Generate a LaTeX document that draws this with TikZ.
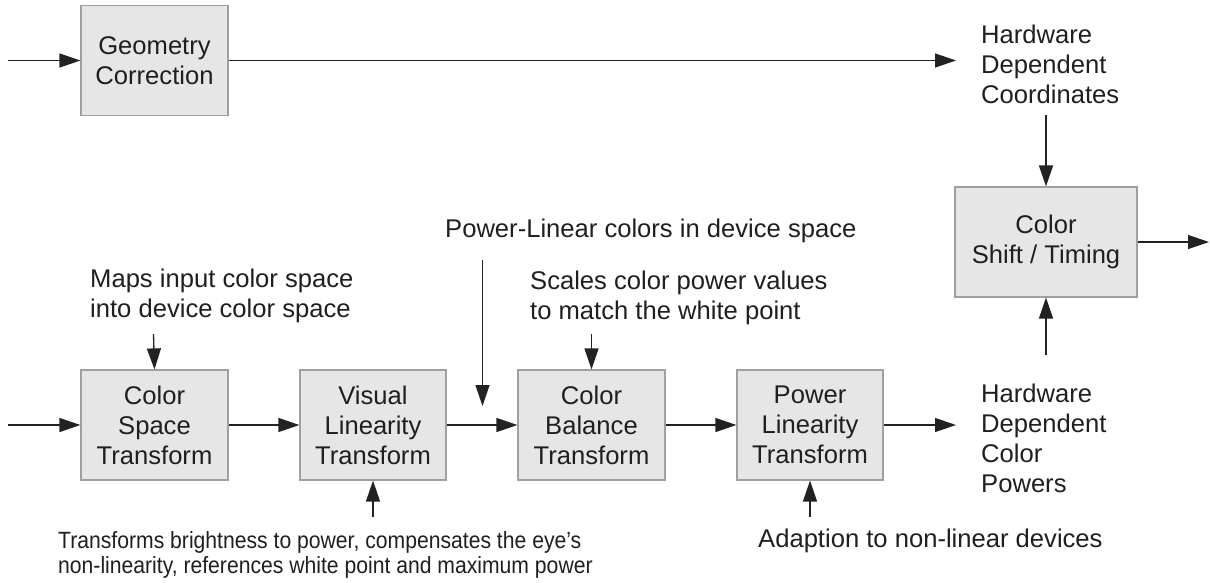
\documentclass[tikz,border=0pt]{standalone}
\usepackage{fontspec}
\setmainfont{Liberation Sans}
\usetikzlibrary{arrows.meta}
\definecolor{boxfill}{HTML}{E6E6E6}
\definecolor{boxline}{HTML}{A0A0A0}
\definecolor{lineclr}{HTML}{222222}
\tikzset{
  blk/.style={draw=boxline, line width=1.2pt, fill=boxfill, minimum width=147pt, minimum height=110pt, inner sep=0pt, align=center, font=\fontsize{25.6}{30}\selectfont, text=black!88},
  lbl/.style={inner sep=0pt, align=left, font=\fontsize{25.6}{30}\selectfont, text=black!88},
  conn/.style={draw=lineclr, line width=1.3pt, -{Triangle[length=21pt,width=14pt]}},
}
\begin{document}
\begin{tikzpicture}[x=1pt,y=-1pt]
\useasboundingbox (0,0) rectangle (1210,582);
% boxes
\node[blk] (geo) at (154.5,60.5) {Geometry\\Correction};
\node[blk, minimum width=182pt] (shift) at (1046,242) {Color\\Shift / Timing};
\node[blk] (cst) at (154.5,425) {Color\\Space\\Transform};
\node[blk, minimum width=146pt] (vlt) at (373,425) {Visual\\Linearity\\Transform};
\node[blk] (cbt) at (591.5,425) {Color\\Balance\\Transform};
\node[blk, minimum width=146pt] (plt) at (810,425) {Power\\Linearity\\Transform};
% labels
\node[lbl, anchor=west] (hdc) at (981,64) {Hardware\\Dependent\\Coordinates};
\node[lbl, anchor=west] (hdp) at (981,438) {Hardware\\Dependent\\Color\\Powers};
\node[lbl, anchor=west] (maps) at (90,296) {Maps input color space\\into device color space};
\node[lbl, anchor=west] (plin) at (445,231) {Power-Linear colors in device space};
\node[lbl, anchor=west] (scales) at (530,298) {Scales color power values\\to match the white point};
\node[lbl, anchor=west, font=\fontsize{23.5}{25.5}\selectfont] (trans) at (58,556) {\scalebox{0.9}[1]{\begin{tabular}{@{}l@{}}Transforms brightness to power, compensates the eye's\\non-linearity, references white point and maximum power\end{tabular}}};
\node[lbl, anchor=west] (adapt) at (758,541) {Adaption to non-linear devices};
% coordinates for free ends
\coordinate (in1) at (8,60.5);
\coordinate (in2) at (8,425);
\coordinate (geoend) at (956,60.5);
\coordinate (hdcbot) at (1046,115);
\coordinate (hdptop) at (1046,355);
\coordinate (out) at (1209,242);
\coordinate (hdpin) at (956,425);
\coordinate (mapsbot) at (153.5,334);
\coordinate (scalesbot) at (591.5,334);
\coordinate (plintop) at (482.5,260);
\coordinate (plinend) at (482.5,406);
\coordinate (transtop) at (373,517);
\coordinate (adapttop) at (810,517);
% connectors
\draw[conn] (in1) -- (geo.west);
\draw[conn] (geo.east) -- (geoend);
\draw[conn] (hdcbot) -- (shift.north);
\draw[conn] (hdptop) -- (shift.south);
\draw[conn] (shift.east) -- (out);
\draw[conn] (in2) -- (cst.west);
\draw[conn] (cst.east) -- (vlt.west);
\draw[conn] (vlt.east) -- (cbt.west);
\draw[conn] (cbt.east) -- (plt.west);
\draw[conn] (plt.east) -- (hdpin);
\draw[conn] (mapsbot) -- (cst.north);
\draw[conn] (scalesbot) -- (cbt.north);
\draw[conn] (plintop) -- (plinend);
\draw[conn] (transtop) -- (vlt.south);
\draw[conn] (adapttop) -- (plt.south);
\end{tikzpicture}
\end{document}
